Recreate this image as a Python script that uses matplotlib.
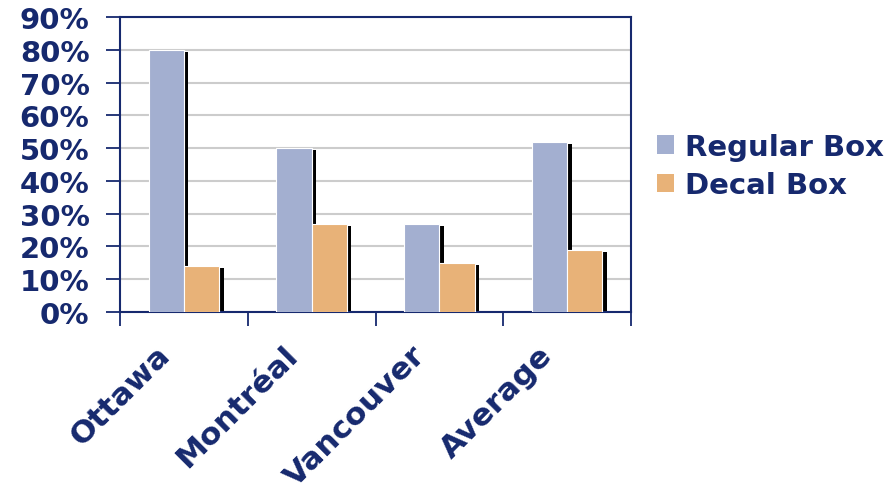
import matplotlib
matplotlib.use("Agg")
import matplotlib.pyplot as plt
import matplotlib.transforms as mtransforms
from matplotlib.patches import Patch
from matplotlib.ticker import FuncFormatter, FixedLocator
import numpy as np

categories = ["Ottawa", "Montréal", "Vancouver", "Average"]
regular_box = [80, 50, 27, 52]
decal_box = [14, 27, 15, 19]
series_names = ["Regular Box", "Decal Box"]
y_ticks = [0, 10, 20, 30, 40, 50, 60, 70, 80, 90]

navy = "#16296e"
c_reg = "#a3afd0"
c_dec = "#e8b278"

plt.rcParams["font.family"] = ["DejaVu Sans"]
plt.rcParams["font.weight"] = "bold"

fig = plt.figure(figsize=(8.96, 4.85), dpi=100)
ax = fig.add_axes([120/896, 1-313/485, 511/896, 295/485])

x = np.arange(len(categories))
w = 0.275

shadow_tr = mtransforms.offset_copy(ax.transData, fig=fig, x=4.5, y=-2, units="dots")
for vals, off in ((regular_box, -w/2), (decal_box, w/2)):
    ax.bar(x + off, vals, width=w, color="black", transform=shadow_tr, zorder=2, linewidth=0)

b1 = ax.bar(x - w/2, regular_box, width=w, color=c_reg, edgecolor="white", linewidth=0.8, zorder=3)
b2 = ax.bar(x + w/2, decal_box, width=w, color=c_dec, edgecolor="white", linewidth=0.8, zorder=3)

ax.set_xlim(-0.5, len(categories) - 0.5)
ax.set_ylim(0, 90)
ax.set_yticks(y_ticks)
ax.yaxis.set_major_formatter(FuncFormatter(lambda v, p: f"{v:.0f}%"))
ax.yaxis.grid(True, color="#cccccc", linewidth=1.5, zorder=0)
ax.set_axisbelow(True)

# category labels (rotated), placed at category centres
ax.set_xticks(x)
ax.set_xticklabels([])
lab_tr = mtransforms.blended_transform_factory(ax.transData, ax.transAxes) + \
    mtransforms.ScaledTranslation(-0.29, -0.28, fig.dpi_scale_trans)
for xi, name in zip(x, categories):
    ax.text(xi, 0, name, transform=lab_tr, rotation=45, ha="right", va="top",
            rotation_mode="anchor", fontsize=22.5, fontweight="bold", color=navy,
            clip_on=False)

ax.xaxis.set_minor_locator(FixedLocator(np.arange(-0.5, len(categories), 1.0)))
ax.tick_params(axis="x", which="major", length=0)
ax.tick_params(axis="x", which="minor", length=10, width=1.3, color=navy, direction="out")
ax.tick_params(axis="y", length=10, width=1.3, color=navy, direction="out", pad=12,
               labelsize=21, labelcolor=navy)
for lab in ax.get_yticklabels():
    lab.set_fontweight("bold")

for s in ax.spines.values():
    s.set_color(navy)
    s.set_linewidth(1.5)

handles = [Patch(facecolor=c_reg, edgecolor="none"), Patch(facecolor=c_dec, edgecolor="none")]
fig.legend(handles, series_names, loc="center left", bbox_to_anchor=(651/896, 1-167/485),
           frameon=False, handlelength=0.6, handleheight=0.6,
           handletextpad=0.35, labelspacing=0.35, labelcolor=navy,
           prop={"weight": "bold", "size": 21}, borderpad=0.2, borderaxespad=0)

fig.savefig("out.png", dpi=100)
